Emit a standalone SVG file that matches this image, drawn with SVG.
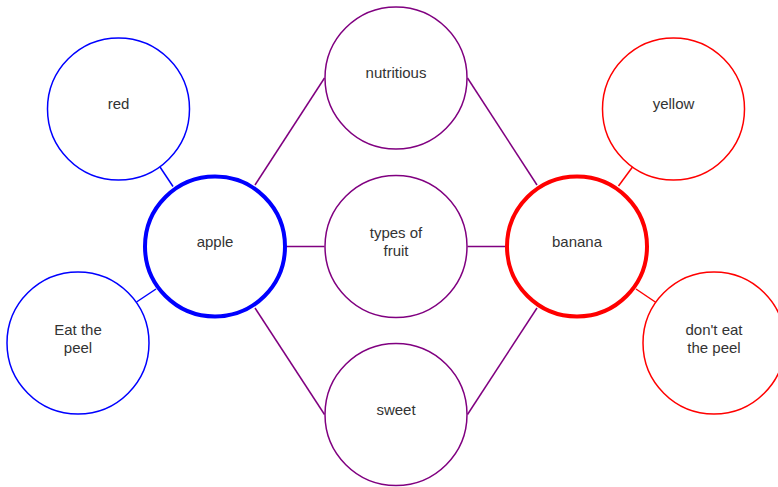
<svg xmlns="http://www.w3.org/2000/svg" width="778" height="487" viewBox="0 0 778 487">
<style>
.n{fill:#fff;stroke-width:1.5}
.b{stroke:#0000ff}
.r{stroke:#ff0000}
.p{stroke:#800080}
.main{stroke-width:4}
text{font-family:"Liberation Sans",Arial,sans-serif;font-size:15px;fill:#333;text-anchor:middle}
.c line{stroke-width:1.5}
</style>
<rect width="778" height="487" fill="#fff"/>
<g id="connectors" class="c">
<line class="b" x1="160" y1="167" x2="173" y2="186.5"/>
<line class="b" x1="136.5" y1="302" x2="156" y2="289"/>
<line class="p" x1="255" y1="185" x2="324.5" y2="78"/>
<line class="p" x1="287" y1="246.5" x2="324.5" y2="246.5"/>
<line class="p" x1="255" y1="308" x2="324.5" y2="414.5"/>
<line class="p" x1="467.5" y1="78" x2="537" y2="185"/>
<line class="p" x1="467.5" y1="246.5" x2="505" y2="246.5"/>
<line class="p" x1="467.5" y1="414.5" x2="537" y2="308"/>
<line class="r" x1="632.5" y1="167" x2="618.5" y2="186"/>
<line class="r" x1="636" y1="289" x2="656" y2="302.5"/>
</g>
<g id="red"><circle class="n b" cx="118.5" cy="109" r="71"/><text x="118.5" y="109">red</text></g>
<g id="eat-the-peel"><circle class="n b" cx="78" cy="343" r="71"/><text x="78" y="334.5">Eat the</text><text x="78" y="352.5">peel</text></g>
<g id="apple"><circle class="n b main" cx="215" cy="246.5" r="70"/><text x="215" y="246.5">apple</text></g>
<g id="nutritious"><circle class="n p" cx="396" cy="78" r="71"/><text x="396" y="78">nutritious</text></g>
<g id="types-of-fruit"><circle class="n p" cx="396" cy="246.5" r="71"/><text x="396" y="237.5">types of</text><text x="396" y="255.5">fruit</text></g>
<g id="sweet"><circle class="n p" cx="396" cy="414.5" r="71"/><text x="396" y="414.5">sweet</text></g>
<g id="banana"><circle class="n r main" cx="577" cy="246.5" r="70"/><text x="577" y="246.5">banana</text></g>
<g id="yellow"><circle class="n r" cx="673.5" cy="109" r="71"/><text x="673.5" y="109">yellow</text></g>
<g id="dont-eat-the-peel"><circle class="n r" cx="714" cy="343" r="71"/><text x="714" y="334.5">don't eat</text><text x="714" y="352.5">the peel</text></g>
</svg>
